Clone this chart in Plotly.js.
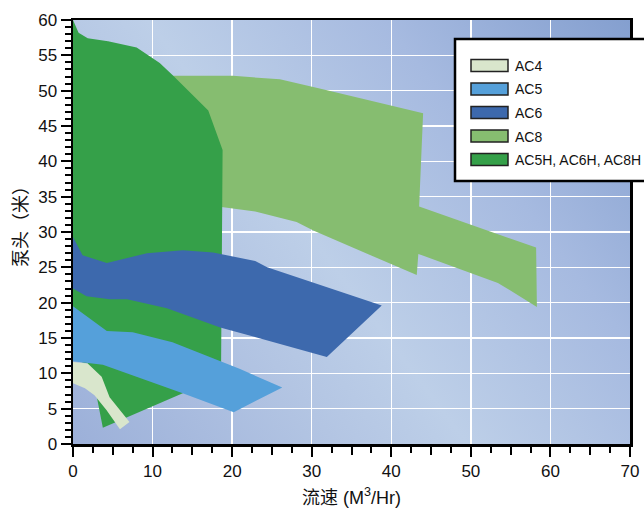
<!DOCTYPE html>
<html><head><meta charset="utf-8">
<script src="https://cdn.plot.ly/plotly-3.0.1.min.js"></script>
<style>
html,body{margin:0;padding:0;background:#fff;}
#wrap{position:relative;width:644px;height:508px;overflow:hidden;}
#bg{position:absolute;left:73px;top:20px;width:557px;height:424px;
background:linear-gradient(53deg,#9cb0d9 0%,#b3c5e3 30%,#bdcfe8 45%,#a6bae0 72%,#849fcf 100%);}
#chart{position:absolute;left:0;top:0;width:644px;height:508px;}
</style></head><body>
<div id="wrap"><div id="bg"></div><div id="chart"></div></div>
<script>
// Series names (legend order)
const seriesNames = ['AC4', 'AC5', 'AC6', 'AC8', 'AC5H, AC6H, AC8H'];
const seriesColors = ['#d9e6cc', '#55a0da', '#3d69ad', '#86bd70', '#35a049'];

// Operating envelopes (flow M3/Hr, head m)
const ac4Flow = [0, 1.85, 3.6, 4.6, 7.1, 5.9, 4.2, 2.7, 1.5, 0];
const ac4Head = [11.6, 11.4, 9.5, 6.6, 3.1, 2.1, 4.8, 6.9, 7.9, 8.6];

const ac5Flow = [0, 4.25, 7.5, 12.5, 21.0, 26.3, 20.2, 13.7, 3.75, 0];
const ac5Head = [19.5, 16.0, 15.8, 14.4, 10.6, 8.0, 4.5, 7.2, 11.2, 11.7];

const ac6Flow = [0, 1.2, 4.25, 9.3, 13.8, 17.6, 22.9, 24.4, 38.8, 31.9, 18.5, 11.8, 6.8, 4.6, 1.7, 0];
const ac6Head = [29.3, 26.7, 25.6, 27.0, 27.4, 27.1, 25.9, 25.0, 19.6, 12.3, 16.5, 19.2, 20.5, 20.5, 20.9, 22.0];

const ac8Flow = [12, 20.1, 26.0, 31.4, 44.0, 43.5, 58.2, 58.3, 53.4, 43.4, 43.2, 41.1, 30.2, 28.1, 22.9, 18.9, 15];
const ac8Head = [52.1, 52.1, 51.6, 50.2, 46.8, 33.6, 27.8, 19.4, 22.8, 26.9, 23.9, 24.9, 30.2, 31.4, 32.9, 33.5, 34];

const hFlow = [0, 0.7, 1.85, 4.4, 8.0, 10.9, 12.5, 17.0, 18.8, 18.6, 18.6, 3.75, 3.0, 1.85, 0];
const hHead = [60, 58.2, 57.4, 57.0, 56.1, 53.9, 52.2, 47.2, 41.6, 11.9, 9.5, 2.3, 6.6, 11.4, 11.9];

const xTickVals = [0, 10, 20, 30, 40, 50, 60, 70];
const xMidTicks = [5, 15, 25, 35, 45, 55, 65];
const xTitle = '流速 (M<sup>3</sup>/Hr)';
const yTitle = '泵头（米）';

const FONT = '"Liberation Sans Narrow", "Arial Narrow", "Liberation Sans", "Noto Sans CJK SC", sans-serif';

function poly(flow, head, idx) {
  return {
    x: flow.concat([flow[0]]), y: head.concat([head[0]]),
    type: 'scatter', mode: 'lines', fill: 'toself',
    fillcolor: seriesColors[idx], line: {width: 0, color: seriesColors[idx]},
    name: seriesNames[idx], showlegend: false, hoverinfo: 'name'
  };
}

// drawing order: AC8, H-series, AC6, AC5, AC4
const traces = [
  poly(ac8Flow, ac8Head, 3),
  poly(hFlow, hHead, 4),
  poly(ac6Flow, ac6Head, 2),
  poly(ac5Flow, ac5Head, 1),
  poly(ac4Flow, ac4Head, 0)
];

// custom legend
const plotL = 73, plotW = 557, plotB = 444, plotH = 424;
const px2x = p => (p - plotL) / plotW;
const py2y = p => (plotB - p) / plotH;
const shapes = [{
  type: 'rect', xref: 'paper', yref: 'paper',
  x0: px2x(455), x1: px2x(660), y0: py2y(181), y1: py2y(39),
  fillcolor: '#ffffff', line: {color: '#000', width: 2.5}, layer: 'above'
}];
const annotations = [];
seriesNames.forEach((nm, i) => {
  const cy = 65.5 + i * 23.5;
  shapes.push({
    type: 'rect', xref: 'paper', yref: 'paper',
    x0: px2x(471), x1: px2x(508), y0: py2y(cy + 6), y1: py2y(cy - 6),
    fillcolor: seriesColors[i], line: {color: '#222', width: 1.5}, layer: 'above'
  });
  annotations.push({
    xref: 'paper', yref: 'paper', x: px2x(514), y: py2y(cy + 0.5),
    xanchor: 'left', yanchor: 'middle', align: 'left', showarrow: false, text: nm,
    font: {family: FONT, size: 14, color: '#111'}, borderpad: 0
  });
});
// y axis title
annotations.push({
  xref: 'paper', yref: 'paper', x: px2x(21), y: py2y(222),
  xanchor: 'center', yanchor: 'middle', showarrow: false, textangle: -90,
  text: yTitle, font: {family: FONT, size: 18, color: '#111'}
});

const layout = {
  width: 644, height: 508,
  margin: {l: 73, r: 14, t: 20, b: 64},
  paper_bgcolor: 'rgba(0,0,0,0)', plot_bgcolor: 'rgba(0,0,0,0)',
  font: {family: FONT, size: 17, color: '#111'},
  showlegend: false,
  xaxis: {
    range: [0, 70], tickmode: 'array', tickvals: xTickVals,
    showgrid: true, gridcolor: '#ffffff', gridwidth: 1.5, zeroline: false,
    ticks: 'outside', ticklen: 10, tickwidth: 2, tickcolor: '#000',
    showline: true, linecolor: '#000', linewidth: 2.5, mirror: true,
    tickfont: {family: FONT, size: 17, color: '#111'},
    minor: {tickmode: 'linear', tick0: 0, dtick: 2.5, ticks: 'outside', ticklen: 6, tickwidth: 2, tickcolor: '#000', showgrid: false},
    title: {text: xTitle, font: {family: FONT, size: 18, color: '#111'}, standoff: 12}
  },
  xaxis2: {
    overlaying: 'x', anchor: 'y', side: 'bottom', range: [0, 70],
    tickmode: 'array', tickvals: xMidTicks, showticklabels: false,
    ticks: 'outside', ticklen: 10, tickwidth: 2, tickcolor: '#000',
    showgrid: false, zeroline: false, showline: false
  },
  yaxis: {
    range: [0, 60], tickmode: 'linear', tick0: 0, dtick: 5,
    showgrid: true, gridcolor: '#ffffff', gridwidth: 1.5, zeroline: false,
    ticks: 'outside', ticklen: 10, tickwidth: 2, tickcolor: '#000',
    showline: true, linecolor: '#000', linewidth: 2.5, mirror: true,
    tickfont: {family: FONT, size: 17, color: '#111'},
    minor: {tickmode: 'linear', tick0: 0, dtick: 1, ticks: 'outside', ticklen: 6, tickwidth: 2, tickcolor: '#000', showgrid: false}
  },
  shapes: shapes,
  annotations: annotations
};

// invisible helper trace so the overlay tick axis is drawn
traces.push({x: [0], y: [0], xaxis: 'x2', yaxis: 'y', type: 'scatter', mode: 'markers',
  marker: {opacity: 0}, showlegend: false, hoverinfo: 'skip'});

Plotly.newPlot('chart', traces, layout, {displayModeBar: false, staticPlot: true});
</script>
</body></html>
